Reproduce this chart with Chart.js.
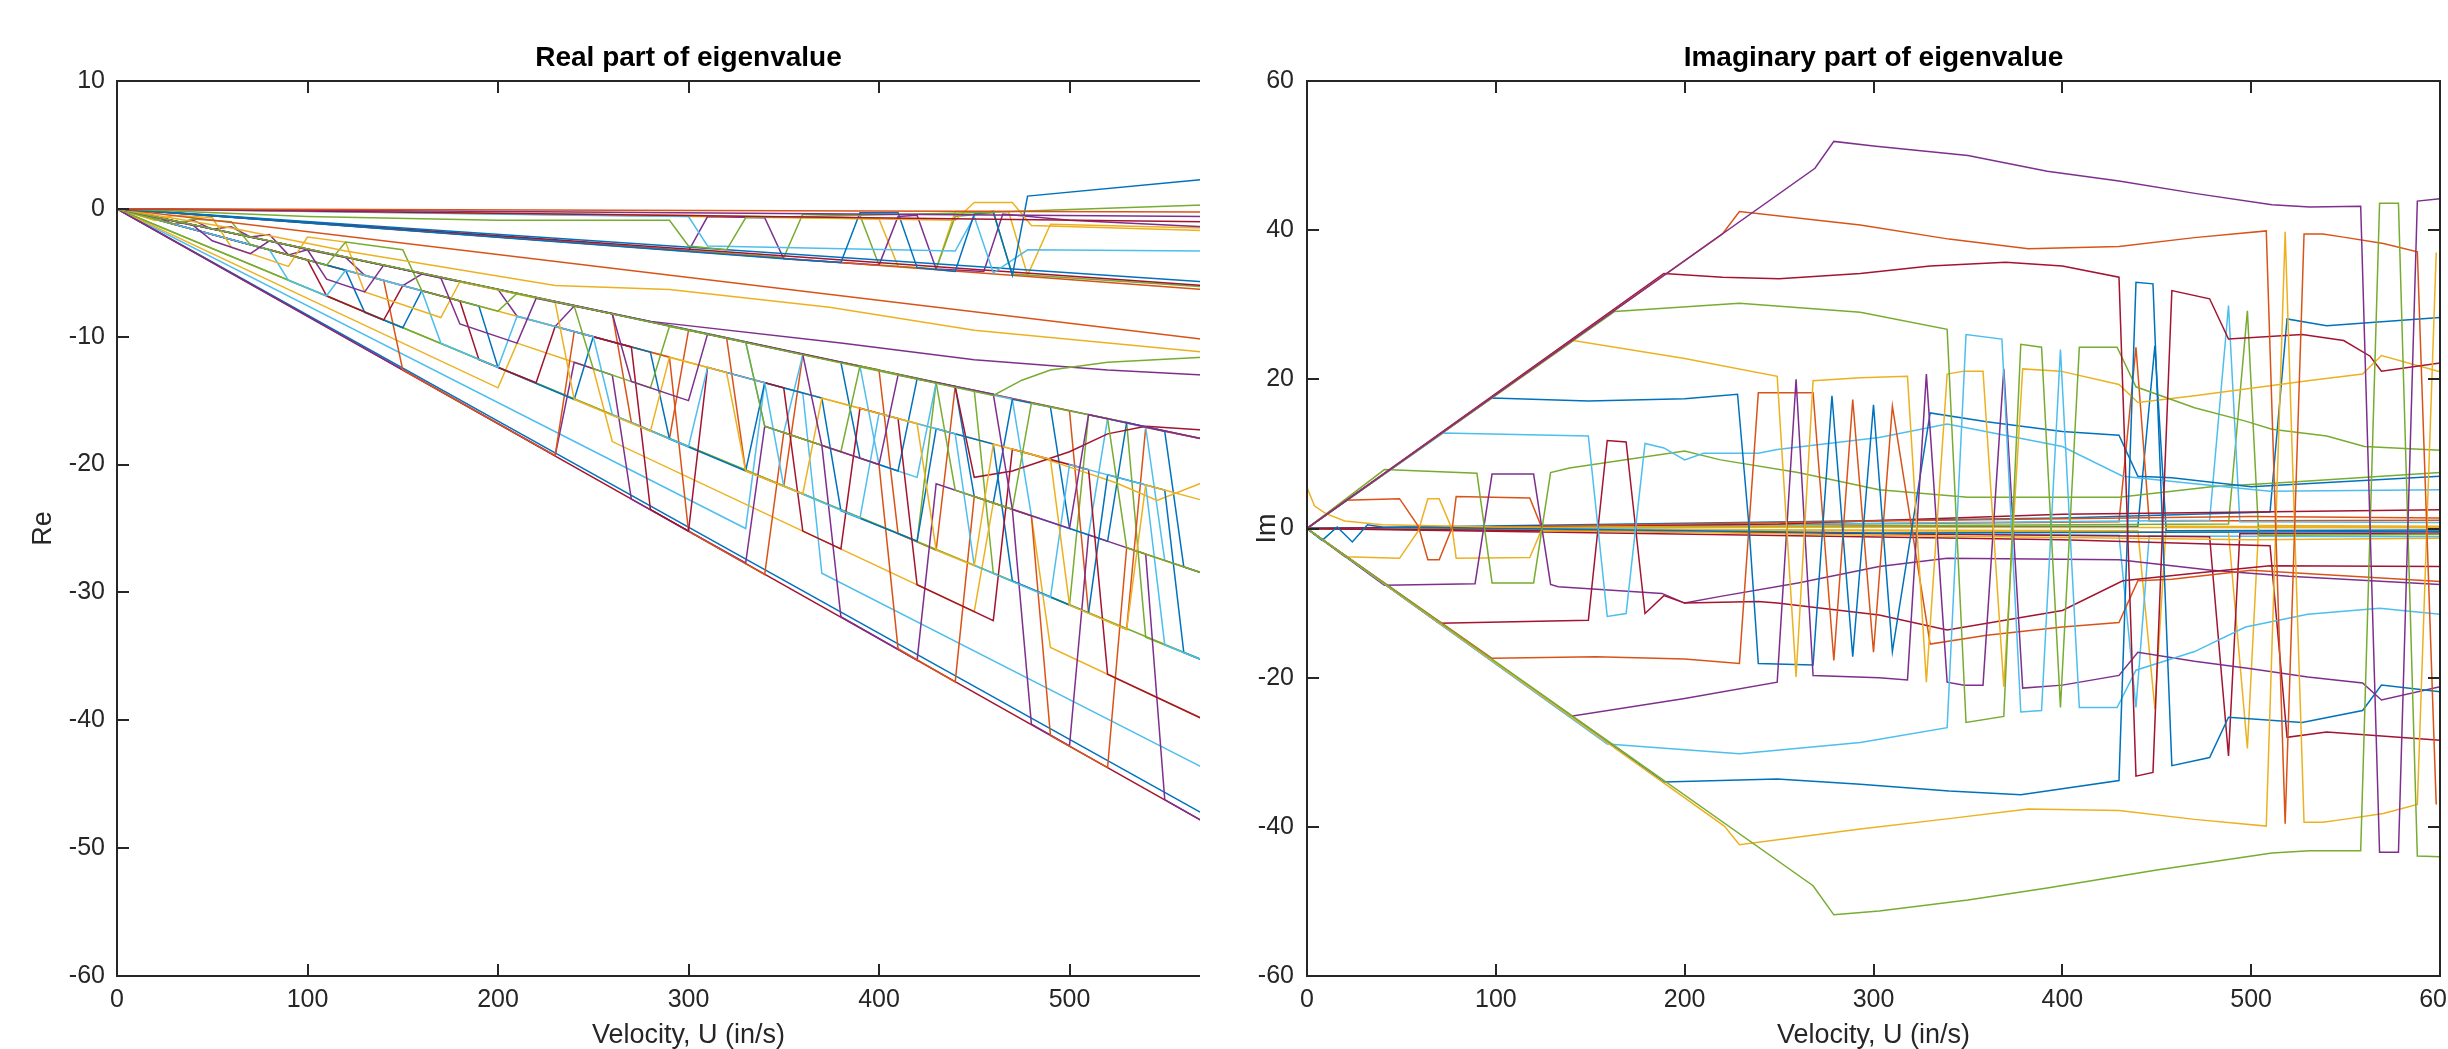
<!DOCTYPE html>
<html>
<head>
<meta charset="utf-8">
<script src="https://cdn.jsdelivr.net/npm/chart.js@4/dist/chart.umd.min.js"></script>
<style>
  html, body { margin: 0; padding: 0; background: #fff; width: 2448px; height: 1049px; overflow: hidden; }
  #leftWrap { position: absolute; left: 0; top: 0; width: 1200px; height: 1049px; overflow: hidden; }
  #rightWrap { position: absolute; left: 1200px; top: 0; width: 1248px; height: 1049px; overflow: hidden; }
</style>
</head>
<body>
<div id="leftWrap"><canvas id="reChart" width="1300" height="1049"></canvas></div>
<div id="rightWrap"><canvas id="imChart" width="1270" height="1049"></canvas></div>

<script>
// ---- tick labels ----
const xTicks = [0, 100, 200, 300, 400, 500, 600];
const reYTicks = [-60, -50, -40, -30, -20, -10, 0, 10];
const imYTicks = [-60, -40, -20, 0, 20, 40, 60];

// ---- Real part: [U, Re] pairs ----
const re01 = [[0,0],[570,-0.25]];
const re02 = [[0,0],[570,-0.6]];
const re03 = [[0,0],[570,-1.0]];
const re04 = [[0,0],[100,-0.6],[200,-0.9],[290,-0.9],[300,-2.9],[320,-3.2],[330,-0.7],[450,-0.3],[570,0.3]];
const re05 = [[0,0],[300,-0.5],[400,-0.8],[440,-0.9],[450,0.5],[470,0.5],[480,-1.3],[570,-1.7]];
const re06 = [[0,0],[350,-3.9],[380,-4.2],[390,-0.3],[410,-0.3],[420,-4.6],[440,-4.9],[450,-0.4],[460,-0.2],[470,-5.2],[478,1.0],[570,2.3]];
const re07 = [[0,0],[240,-0.5],[300,-0.6],[310,-2.9],[440,-3.3],[450,-0.6],[460,-5.0],[478,-3.2],[570,-3.3]];
const re08 = [[0,0],[570,-5.7]];
const re09 = [[0,0],[570,-6.0]];
const re10 = [[0,0],[570,-6.3]];
const re11 = [[0,0],[300,-3.3],[310,-0.6],[340,-0.7],[350,-3.9],[400,-4.4],[410,-0.6],[420,-0.5],[430,-4.7],[455,-4.9],[465,-0.4],[500,-0.9],[570,-1.4]];
const re12 = [[0,0],[350,-3.8],[360,-0.4],[390,-0.5],[400,-4.4],[430,-4.7],[440,-0.6],[460,-0.3],[470,-5.1],[570,-6.1]];
const re13 = [[0,0],[400,-0.8],[410,-4.5],[430,-4.7],[440,-0.2],[468,-0.2],[478,-5.2],[490,-1.2],[570,-1.5]];
const re14 = [[0,0],[570,-10.2]];
const re15 = [[0,0],[60,-1.5],[120,-3.3],[230,-6.0],[290,-6.3],[374,-7.7],[450,-9.5],[570,-11.2]];
const re16 = [[0,0],[150,-4.7],[300,-9.5],[460,-14.6],[475,-13.4],[490,-12.6],[520,-12.0],[570,-11.6]];
const re17 = [[0,0],[40,-1.3],[50,-2.5],[70,-3.5],[80,-2.5],[100,-3.2],[110,-5.5],[130,-6.5],[140,-4.4],[170,-5.4],[180,-9.0],[210,-10.5],[220,-7.0],[260,-8.2],[270,-13.5],[300,-15.0],[310,-9.8],[360,-11.4],[370,-18.5],[400,-20.0],[410,-13.0],[460,-14.5],[470,-23.5],[500,-25.0],[510,-16.1],[570,-18.0]];
const re18 = [[0,0],[30,-1.2],[40,-0.8],[60,-1.0],[70,-2.8],[110,-4.4],[120,-2.6],[150,-3.2],[160,-6.4],[200,-8.0],[210,-6.6],[240,-7.6],[250,-12.5],[280,-14.0],[290,-9.2],[330,-10.4],[340,-17.0],[380,-19.0],[390,-12.3],[430,-13.6],[440,-22.0],[470,-23.5],[480,-15.2],[520,-16.4],[530,-26.5],[570,-28.5]];
const re19 = [[0,0],[20,-0.9],[30,-0.5],[50,-0.7],[60,-3.0],[90,-4.5],[100,-2.2],[120,-2.6],[130,-6.5],[170,-8.5],[180,-5.7],[230,-7.3],[240,-14.9],[280,-17.4],[290,-11.6],[320,-12.8],[330,-20.5],[360,-22.3],[370,-14.8],[420,-16.8],[430,-26.7],[450,-27.9],[460,-18.4],[490,-19.6],[500,-31.0],[530,-32.9],[540,-21.6],[570,-22.8]];
const re20 = [[0,0],[80,-3.2],[90,-5.6],[110,-6.8],[120,-4.8],[160,-6.4],[170,-10.5],[200,-12.4],[210,-8.4],[250,-10.0],[260,-16.1],[300,-18.6],[310,-12.4],[340,-13.6],[350,-21.7],[390,-24.2],[400,-16.0],[440,-17.6],[450,-27.9],[490,-30.4],[500,-20.0],[540,-21.6],[550,-34.1],[570,-35.3]];
const re21 = [[0,0],[100,-4.0],[110,-6.8],[140,-8.7],[150,-6.0],[180,-7.2],[190,-11.8],[220,-13.6],[230,-9.2],[270,-10.8],[280,-23.5],[300,-25.2],[310,-12.4],[350,-14.0],[360,-25.2],[380,-26.6],[390,-15.6],[410,-16.4],[420,-29.4],[460,-32.2],[470,-18.8],[510,-20.4],[520,-36.4],[570,-39.9]];
const re22 = [[0,0],[120,-4.8],[130,-8.1],[150,-9.3],[160,-6.4],[190,-7.6],[200,-12.4],[240,-14.9],[250,-10.0],[280,-11.2],[290,-18.0],[330,-20.5],[340,-13.6],[370,-14.8],[380,-23.6],[420,-26.0],[430,-17.2],[460,-18.4],[470,-29.1],[510,-31.6],[520,-20.8],[550,-22.0],[560,-34.7],[570,-35.3]];
const re23 = [[0,0],[140,-5.6],[150,-12.6],[230,-19.3],[240,-9.6],[290,-11.6],[300,-25.2],[340,-28.6],[350,-17.5],[400,-20.0],[410,-34.4],[440,-37.0],[450,-22.5],[480,-24.0],[490,-41.2],[520,-43.7],[530,-26.5],[560,-28.0],[570,-28.5]];
const re24 = [[0,0],[230,-19.3],[240,-12.0],[260,-13.0],[270,-22.7],[330,-27.7],[340,-17.0],[370,-18.5],[380,-31.9],[420,-35.3],[430,-21.5],[470,-23.5],[480,-40.3],[500,-42.0],[510,-25.5],[540,-27.0],[550,-46.2],[570,-47.9]];
const re25 = [[0,0],[570,-35.3]];
const re26 = [[0,0],[200,-14.0],[210,-10.5],[250,-12.5],[260,-18.2],[450,-31.5],[460,-23.0],[480,-24.0],[490,-34.3],[570,-39.9]];
const re27 = [[0,0],[570,-47.9]];
const re28 = [[0,0],[570,-47.3]];
const re29 = [[0,0],[330,-25.0],[340,-13.6],[360,-14.4],[370,-28.5],[570,-43.7]];
const re30 = [[0,0],[280,-8.8],[380,-10.5],[450,-11.8],[520,-12.6],[570,-13.0]];
const re31 = [[0,0],[440,-13.9],[450,-21.0],[470,-20.5],[500,-19.0],[520,-17.6],[540,-17.0],[570,-17.3]];
const re32 = [[0,0],[480,-19.2],[500,-20.2],[524,-21.4],[546,-22.8],[570,-21.4]];
const re33 = [[0,0],[380,-12.0],[390,-19.5],[410,-20.5],[420,-13.3],[440,-13.9],[450,-22.5],[460,-23.0],[470,-14.9],[490,-15.5],[500,-25.0],[520,-26.0],[530,-16.7],[550,-17.4],[560,-28.0],[570,-28.5]];
const re34 = [[0,0],[330,-10.4],[340,-17.0],[350,-17.5],[360,-11.4],[390,-12.3],[400,-20.0],[420,-21.0],[430,-13.6],[470,-14.9],[480,-24.0],[510,-25.5],[520,-16.4],[540,-17.1],[550,-27.5],[570,-28.5]];
const re35 = [[0,0],[260,-8.2],[270,-16.7],[290,-18.0],[300,-9.5],[320,-10.1],[330,-20.5],[350,-21.7],[360,-11.4],[400,-12.6],[410,-25.4],[430,-26.7],[440,-13.9],[500,-15.8],[510,-31.6],[530,-32.9],[540,-17.1],[570,-18.0]];
const re36 = [[0,0],[420,-26.0],[430,-13.6],[450,-14.2],[460,-28.5],[500,-31.0],[510,-16.1],[530,-16.7],[540,-33.5],[570,-35.3]];
const re37 = [[0,0],[20,-0.6],[30,-1.2],[40,-0.9],[50,-1.6],[60,-1.4],[70,-2.2],[80,-2.0],[90,-3.6],[100,-3.2],[120,-3.8],[130,-5.2],[150,-6.0],[160,-5.1],[200,-6.3],[210,-8.4],[230,-9.2],[240,-7.6],[280,-8.8],[570,-18.0]];

const reSeries = [re01, re02, re03, re04, re05, re06, re07, re08, re09, re10, re11, re12, re13, re14, re15, re16,
                  re17, re18, re19, re20, re21, re22, re23, re24, re25, re26, re27, re28, re29, re30, re31, re32,
                  re33, re34, re35, re36, re37];
const reColorKeys = ['O','P','R','G','Y','B','C','B','R','O','P','G','Y','O','Y','G',
                     'P','G','Y','C','R','B','O','P','G','Y','R','B','C','P','R','Y',
                     'B','C','O','G','P'];

// ---- Imaginary part: [U, Im] pairs ----
const im01 = [[0,0],[269,48.3],[279,51.9],[300,51.3],[350,50.0],[392,47.9],[430,46.6],[471,44.9],[511,43.4],[531,43.1],[558,43.2],[568,-43.4],[578,-43.4],[588,43.9],[600,44.2]];
const im02 = [[0,0],[268,-47.9],[279,-51.8],[303,-51.3],[350,-49.8],[392,-48.2],[450,-45.8],[511,-43.5],[531,-43.2],[558,-43.2],[568,43.6],[578,43.6],[588,-43.9],[600,-44.0]];
const im03 = [[0,0],[220,39.5],[229,42.5],[293,40.7],[340,38.8],[382,37.5],[430,37.8],[470,39.0],[508,39.9],[518,-39.6],[528,39.5],[538,39.5],[548,39.1],[570,38.2],[588,37.1],[598,-37.0]];
const im04 = [[0,0],[221,-39.9],[229,-42.4],[293,-40.3],[340,-38.9],[382,-37.6],[430,-37.8],[470,-39.0],[508,-39.9],[518,39.8],[528,-39.4],[538,-39.4],[549,-39.0],[570,-38.2],[588,-37.0],[598,37.0]];
const im05 = [[0,0],[189,34.2],[220,33.7],[250,33.5],[293,34.2],[330,35.2],[370,35.7],[400,35.2],[430,33.7],[439,-33.2],[448,-32.7],[458,31.9],[478,30.8],[488,25.4],[527,26.0],[549,25.2],[563,23.1],[569,21.1],[600,22.2]];
const im06 = [[0,0],[189,-34.0],[249,-33.6],[293,-34.3],[340,-35.2],[378,-35.7],[430,-33.8],[439,33.0],[448,32.8],[458,-31.8],[478,-30.7],[488,-25.3],[527,-26.0],[559,-24.4],[569,-21.0],[600,-21.9]];
const im07 = [[0,0],[163,29.1],[229,30.2],[293,29.0],[339,26.7],[349,-26.0],[369,-25.2],[378,24.7],[389,24.3],[399,-24.0],[409,24.3],[429,24.3],[439,19.0],[470,16.2],[497,14.4],[511,13.3],[540,12.4],[560,11.0],[600,10.5]];
const im08 = [[0,0],[159,-28.9],[229,-30.2],[293,-28.7],[339,-26.7],[349,26.0],[368,25.4],[378,-24.6],[389,-24.4],[399,24.0],[409,-24.0],[429,-24.0],[439,-19.0],[470,-16.5],[497,-13.2],[530,-11.5],[568,-10.7],[600,-11.5]];
const im09 = [[0,0],[141,25.2],[200,22.8],[249,20.4],[259,-19.9],[268,19.8],[293,20.2],[318,20.4],[328,-20.6],[339,20.7],[348,21.1],[358,21.1],[369,-21.2],[379,21.4],[399,21.1],[430,19.3],[440,16.9],[470,17.8],[500,18.8],[530,19.8],[559,20.7],[569,23.2],[600,21.0]];
const im10 = [[0,0],[139,-25.2],[200,-22.8],[249,-20.6],[259,20.0],[268,-19.7],[303,-20.0],[318,-20.3],[328,20.7],[339,-20.6],[348,-21.0],[358,-21.0],[369,21.4],[379,-21.4],[400,-21.0],[430,-19.7],[440,-16.6],[470,-17.8],[500,-18.8],[530,-19.9],[559,-20.7],[569,-23.0],[600,-21.2]];
const im11 = [[0,0],[98,17.5],[149,17.1],[200,17.4],[228,18.0],[234,0.5],[239,-18.1],[268,-18.3],[278,17.8],[289,-17.2],[300,16.6],[310,-16.5],[330,15.5],[360,14.3],[400,13.0],[430,12.5],[440,7.0],[458,6.8],[500,5.6],[600,7.0]];
const im12 = [[0,0],[98,-17.4],[153,-17.2],[200,-17.5],[229,-18.1],[239,18.2],[268,18.2],[279,-17.7],[289,17.3],[300,-16.6],[310,16.4],[330,-15.5],[360,-14.3],[400,-13.2],[430,-12.6],[440,-7.0],[458,-6.8],[500,-5.6],[600,-7.1]];
const im13 = [[0,0],[72,12.8],[149,12.4],[159,-11.8],[169,-11.4],[179,11.4],[189,10.8],[200,9.2],[210,10.1],[239,10.1],[249,10.6],[303,12.2],[339,14.0],[400,11.0],[432,7.0],[470,6.0],[510,5.0],[600,5.2]];
const im14 = [[0,0],[70,-12.7],[149,-12.3],[159,11.8],[169,11.6],[179,-11.4],[189,-9.0],[200,-10.0],[239,-9.8],[249,-10.0],[303,-11.6],[339,-13.6],[400,-11.0],[432,-7.0],[470,-6.0],[510,-5.0],[600,-5.1]];
const im15 = [[0,0],[41,7.9],[90,7.4],[98,-7.3],[120,-7.3],[129,7.5],[139,8.1],[200,10.4],[219,9.2],[260,7.5],[303,5.2],[350,4.2],[430,4.2],[479,5.6],[520,6.2],[600,7.5]];
const im16 = [[0,0],[41,-7.6],[89,-7.4],[98,7.3],[120,7.3],[129,-7.5],[133,-7.8],[188,-8.7],[200,-10.0],[219,-9.1],[260,-7.3],[303,-5.1],[339,-4.0],[430,-4.2],[479,-5.6],[520,-6.4],[600,-7.5]];
const im17 = [[0,0],[20,3.8],[49,4.0],[59,0.3],[64,-4.2],[70,-4.2],[77,0.2],[79,4.3],[118,4.1],[124,0.3],[200,0.6],[300,1.0],[400,1.3],[500,1.6],[600,1.4]];
const im18 = [[0,0],[20,-3.8],[49,-4.0],[59,-0.3],[64,4.0],[70,4.0],[77,-0.2],[79,-4.0],[118,-3.9],[124,-0.3],[200,-0.5],[300,-0.9],[400,-1.2],[500,-1.5],[600,-1.3]];
const im19 = [[0,5.5],[4,3.0],[10,2.0],[20,1.0],[40,0.5],[100,0.2],[600,0.1]];
const im20 = [[0,0],[8,-1.6],[16,0.2],[24,-1.8],[32,0.5],[40,0.2],[300,-0.6],[600,-0.4]];
const im21 = [[0,0],[250,0.6],[400,1.9],[600,2.5]];
const im22 = [[0,0],[400,1.4],[510,2.2],[519,28.1],[540,27.2],[600,28.3]];
const im23 = [[0,0],[400,-1.5],[510,-2.3],[519,-28.0],[540,-27.3],[600,-28.4]];
const im24 = [[0,0],[478,1.1],[488,29.9],[494,0.9],[600,0.8]];
const im25 = [[0,0],[488,0.6],[498,29.2],[504,-0.9],[600,-0.8]];
const im26 = [[0,0],[478,-1.1],[488,-30.5],[494,-0.7],[600,-0.6]];
const im27 = [[0,0],[488,-0.5],[498,-29.5],[504,0.4],[600,0.3]];
const im28 = [[0,0],[430,0.9],[439,24.3],[446,1.0],[600,1.1]];
const im29 = [[0,0],[440,0.3],[449,24.5],[455,-0.3],[600,-0.2]];
const im30 = [[0,0],[430,-0.9],[439,-24.0],[446,-1.0],[600,-1.1]];
const im31 = [[0,0],[440,-0.3],[449,-24.2],[455,0.3],[600,0.2]];

const imSeries = [im01, im02, im03, im04, im05, im06, im07, im08, im09, im10, im11, im12, im13, im14,
                  im15, im16, im17, im18, im19, im20, im21, im22, im23, im24, im25, im26, im27,
                  im28, im29, im30, im31];
const imColorKeys = ['P','G','O','Y','R','B','G','C','Y','P','B','O','C','R',
                     'G','P','O','Y','Y','B','R','B','R','C','G','R','Y',
                     'O','B','C','Y'];

// MATLAB default line colours
const palette = { B: '#0072BD', O: '#D95319', Y: '#EDB120', P: '#7E2F8E', G: '#77AC30', C: '#4DBEEE', R: '#A2142F' };
const FONT = "'Liberation Sans', Helvetica, Arial, sans-serif";
const AXIS_COLOR = '#262626';

// axes box with inward ticks, drawn on top like MATLAB
const matlabBox = {
  id: 'matlabBox',
  afterDatasetsDraw(chart) {
    const { ctx, chartArea: a, scales: { x, y } } = chart;
    const len = 12;
    ctx.save();
    ctx.strokeStyle = AXIS_COLOR;
    ctx.lineWidth = 2;
    ctx.strokeRect(a.left, a.top, a.right - a.left, a.bottom - a.top);
    ctx.beginPath();
    x.ticks.forEach(t => {
      const px = Math.round(x.getPixelForValue(t.value));
      ctx.moveTo(px, a.bottom); ctx.lineTo(px, a.bottom - len);
      ctx.moveTo(px, a.top); ctx.lineTo(px, a.top + len);
    });
    y.ticks.forEach(t => {
      const py = Math.round(y.getPixelForValue(t.value));
      ctx.moveTo(a.left, py); ctx.lineTo(a.left + len, py);
      ctx.moveTo(a.right, py); ctx.lineTo(a.right - len, py);
    });
    ctx.stroke();
    ctx.restore();
  }
};

function makeDatasets(series, keys) {
  return series.map((s, i) => ({
    data: s.map(p => ({ x: p[0], y: p[1] })),
    borderColor: palette[keys[i]],
    borderWidth: 1.5,
    pointRadius: 0,
    fill: false,
    tension: 0
  }));
}

function makeChart(id, opts) {
  const ctx = document.getElementById(id).getContext('2d');
  return new Chart(ctx, {
    type: 'line',
    data: { datasets: makeDatasets(opts.series, opts.colors) },
    options: {
      responsive: false,
      animation: false,
      devicePixelRatio: 1,
      layout: { padding: { left: 0, right: opts.padRight, top: 0, bottom: 0 } },
      plugins: {
        legend: { display: false },
        tooltip: { enabled: false },
        title: {
          display: true,
          text: opts.title,
          fullSize: false,
          color: '#000',
          font: { family: FONT, size: 28, weight: 'bold', lineHeight: 1.2 },
          padding: { top: 41, bottom: 6.4 }
        }
      },
      scales: {
        x: {
          type: 'linear',
          min: 0,
          max: 600,
          afterBuildTicks: s => { s.ticks = xTicks.map(v => ({ value: v })); },
          afterFit: s => { s.height = 73; },
          grid: { display: false, drawTicks: false },
          border: { display: false },
          ticks: { color: AXIS_COLOR, font: { family: FONT, size: 25 }, padding: 9, maxRotation: 0, autoSkip: false },
          title: { display: true, text: 'Velocity, U (in/s)', color: AXIS_COLOR,
                   font: { family: FONT, size: 27, lineHeight: 1 }, padding: { top: 0, bottom: 0 } }
        },
        y: {
          type: 'linear',
          min: opts.yTicks[0],
          max: opts.yTicks[opts.yTicks.length - 1],
          afterBuildTicks: s => { s.ticks = opts.yTicks.map(v => ({ value: v })); },
          afterFit: s => { s.width = opts.yWidth; },
          grid: { display: false, drawTicks: false },
          border: { display: false },
          ticks: { color: AXIS_COLOR, font: { family: FONT, size: 25 }, padding: opts.yPad, autoSkip: false },
          title: { display: true, text: opts.yLabel, color: AXIS_COLOR,
                   font: { family: FONT, size: 27, lineHeight: 1 }, padding: { top: opts.yTitlePad, bottom: 0 } }
        }
      }
    },
    plugins: [matlabBox]
  });
}

makeChart('reChart', {
  series: reSeries, colors: reColorKeys, title: 'Real part of eigenvalue',
  yTicks: reYTicks, yLabel: 'Re', yWidth: 117, yPad: 12, yTitlePad: 30.5, padRight: 40
});

makeChart('imChart', {
  series: imSeries, colors: imColorKeys, title: 'Imaginary part of eigenvalue',
  yTicks: imYTicks, yLabel: 'Im', yWidth: 107, yPad: 13, yTitlePad: 54, padRight: 30
});
</script>
</body>
</html>
